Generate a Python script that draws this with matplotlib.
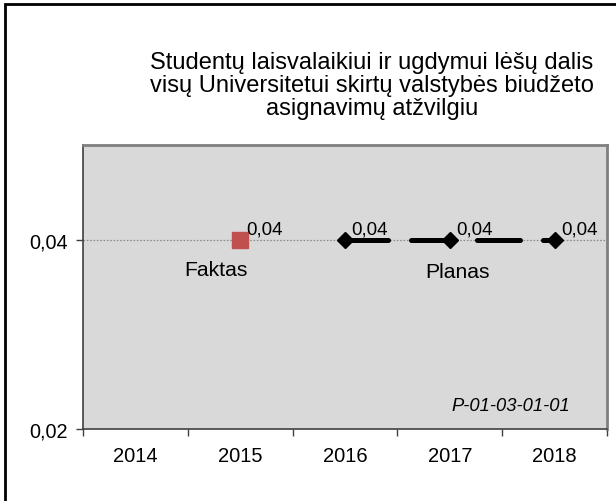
import numpy as np
import matplotlib
matplotlib.use("Agg")
import matplotlib.pyplot as plt
from matplotlib.patches import Rectangle

plt.rcParams['font.family'] = ['Liberation Sans', 'DejaVu Sans']
plt.rcParams['lines.scale_dashes'] = False

# data
years = ['2014', '2015', '2016', '2017', '2018']
faktas_idx = [1]
faktas_vals = [0.04]
planas_idx = [2, 3, 4]
planas_vals = [0.04, 0.04, 0.04]
title = ("Studentų laisvalaikiui ir ugdymui lėšų dalis\n"
         "visų Universitetui skirtų valstybės biudžeto\n"
         "asignavimų atžvilgiu")

fig = plt.figure(figsize=(6.16, 5.02), dpi=100)
ax = fig.add_axes([83 / 616, 1 - 430 / 502, 524 / 616, 284 / 502])
ax.set_facecolor('#D9D9D9')

# outer chart frame (right/bottom fall outside the image)
fig.patches.append(Rectangle((5 / 616, -0.1), 1.2, 1 - 5 / 502 + 0.1,
                             transform=fig.transFigure, fill=False,
                             edgecolor='black', linewidth=2))

ax.set_xlim(-0.5, len(years) - 0.5)
ax.set_ylim(0.02, 0.05)

ax.axhline(0.04, color='#8C8C8C', lw=0.9, ls=(0, (1.2, 1.2)), zorder=1)

ax.plot(planas_idx, planas_vals, color='black', lw=3.6,
        ls=(0, (31, 16.5)), dash_capstyle='round', zorder=2)
ax.plot(planas_idx, planas_vals, ls='none', marker='D', ms=8.5,
        color='black', zorder=3)
ax.plot(faktas_idx, faktas_vals, ls='none', marker='s', ms=11.5,
        color='#C0504D', zorder=3)

for x, v in zip(faktas_idx + planas_idx, faktas_vals + planas_vals):
    ax.annotate(f'{v:.2f}'.replace('.', ','), (x, v), xytext=(4.5, 7.5),
                textcoords='offset points', ha='left', va='center',
                fontsize=13.5)

ax.text(0.77, 0.03684, 'Faktas', ha='center', va='center', fontsize=15.2)
ax.text(3.07, 0.03663, 'Planas', ha='center', va='center', fontsize=15.2)
ax.text(0.929, 0.0845, 'P-01-03-01-01', transform=ax.transAxes,
        ha='right', va='center', fontsize=13.2, style='italic')

ax.set_yticks([0.02, 0.04])
ax.set_yticklabels(['0,02', '0,04'], fontsize=14.3)
ax.set_xticks(np.arange(len(years)))
ax.set_xticklabels(years, fontsize=14.5)
ax.set_xticks(np.arange(len(years) + 1) - 0.5, minor=True)
ax.tick_params(axis='x', which='major', length=0, pad=12)
ax.tick_params(axis='x', which='minor', length=5, width=1, color='#404040')
ax.tick_params(axis='y', length=5, width=1, color='#404040', pad=6)

for s in ['top', 'right']:
    ax.spines[s].set_color('#808080')
    ax.spines[s].set_linewidth(2)
for s in ['left', 'bottom']:
    ax.spines[s].set_color('#404040')
    ax.spines[s].set_linewidth(1.2)

fig.text(372 / 616, 1 - 86 / 502, title, ha='center', va='center',
         fontsize=17, linespacing=1.03)

fig.savefig('out.png', dpi=100)
